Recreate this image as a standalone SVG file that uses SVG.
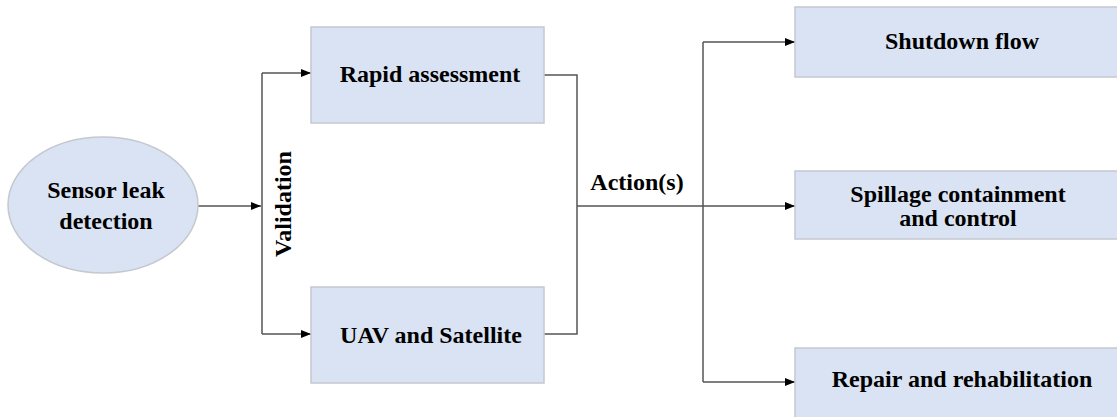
<svg xmlns="http://www.w3.org/2000/svg" width="1117" height="417" viewBox="0 0 1117 417">
<style>
.box{fill:#dae3f3;stroke:#c4c8cf;stroke-width:1.5}
.t{font-family:"Liberation Serif","Times New Roman",serif;font-weight:bold;font-size:24px;fill:#000;text-anchor:middle}
.ln{fill:none;stroke:#555;stroke-width:1.5}
</style>
<defs>
<marker id="ah" markerWidth="10" markerHeight="8" refX="10" refY="4" orient="auto" markerUnits="userSpaceOnUse">
<path d="M0,0 L10,4 L0,8 Z" fill="#000"/>
</marker>
</defs>
<rect width="1117" height="417" fill="#fff"/>
<g id="connectors">
<path class="ln" d="M198,206 H261" marker-end="url(#ah)"/>
<path class="ln" d="M262,73 V334"/>
<path class="ln" d="M262,73 H311" marker-end="url(#ah)"/>
<path class="ln" d="M262,334 H311" marker-end="url(#ah)"/>
<path class="ln" d="M544,75 H577 V334 H544"/>
<path class="ln" d="M577,206 H795" marker-end="url(#ah)"/>
<path class="ln" d="M703,42 V382"/>
<path class="ln" d="M703,42 H795" marker-end="url(#ah)"/>
<path class="ln" d="M703,382 H795" marker-end="url(#ah)"/>
<text class="t" x="637" y="190">Action(s)</text>
<text class="t" transform="translate(291,204) rotate(-90)">Validation</text>
</g>
<g id="sensor">
<ellipse class="box" cx="103" cy="205" rx="95" ry="68"/>
<text class="t" x="106" y="198">Sensor leak</text>
<text class="t" x="106" y="229">detection</text>
</g>
<g id="rapid">
<rect class="box" x="311" y="27" width="233" height="96"/>
<text class="t" x="430" y="82">Rapid assessment</text>
</g>
<g id="uav">
<rect class="box" x="311" y="287" width="233" height="96"/>
<text class="t" x="431" y="343">UAV and Satellite</text>
</g>
<g id="shutdown">
<rect class="box" x="795" y="7" width="340" height="70"/>
<text class="t" x="962" y="49">Shutdown flow</text>
</g>
<g id="spillage">
<rect class="box" x="795" y="171" width="340" height="68"/>
<text class="t" x="958" y="202">Spillage containment</text>
<text class="t" x="958" y="226">and control</text>
</g>
<g id="repair">
<rect class="box" x="795" y="348" width="340" height="80"/>
<text class="t" x="962" y="387">Repair and rehabilitation</text>
</g>
</svg>
